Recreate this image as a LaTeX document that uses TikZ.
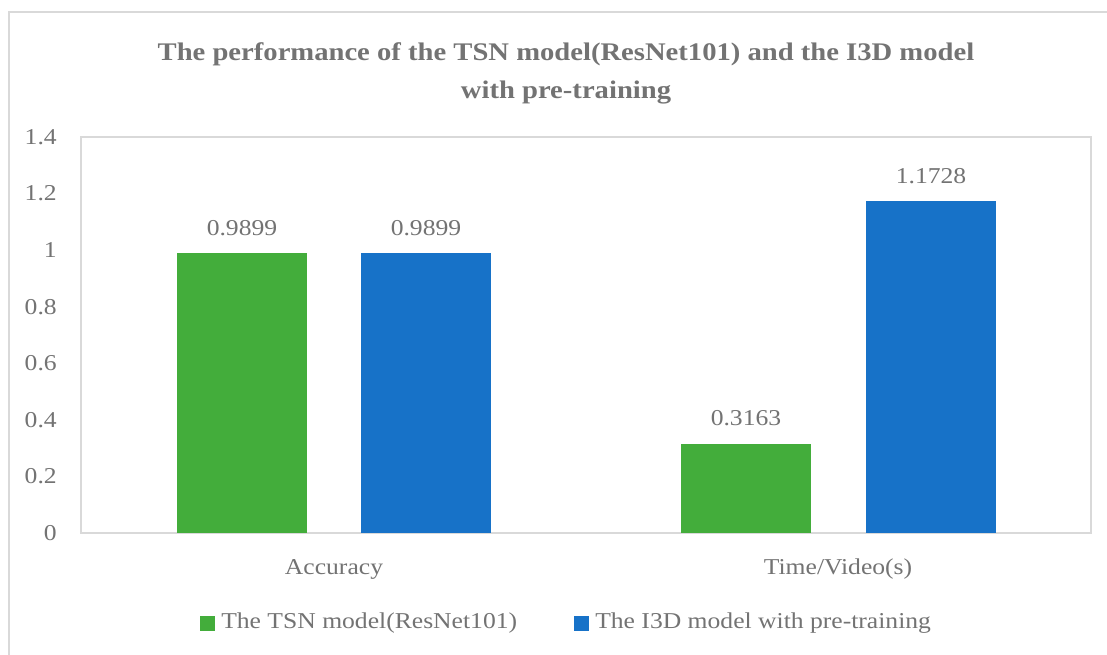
\documentclass[tikz,border=0pt]{standalone}
\usepackage{fontspec}
\setmainfont[FakeStretch=1.13]{Liberation Serif}
\definecolor{txt}{HTML}{737373}
\definecolor{frame}{HTML}{D9D9D9}
\definecolor{tsn}{HTML}{43AD3B}
\definecolor{itd}{HTML}{1772C8}
\tikzset{
  px/.style={x=0.75pt,y=-0.75pt},
  lblfont/.style={text=txt,font=\fontsize{17}{20}\selectfont,inner sep=0pt},
  ticklbl/.style={lblfont,anchor=east},
  vallbl/.style={lblfont},
  catlbl/.style={lblfont},
  leglbl/.style={lblfont,anchor=west},
}
\begin{document}
\begin{tikzpicture}[px]
\useasboundingbox (0,0) rectangle (1107,655);
\fill[white] (0,0) rectangle (1107,655);
\begin{scope}
  \clip (0,0) rectangle (1107,655);
  \draw[frame,line width=1.5pt] (9,12) rectangle (1130,680);
\end{scope}
% title
\node[text=txt,font=\bfseries\fontsize{19}{28.5}\selectfont,align=center] (title) at (566,73)
  {The performance of the TSN model(ResNet101) and the I3D model\\with pre-training};
% plot area
\draw[frame,line width=1.2pt] (81,137) rectangle (1091,533);
% y tick labels
\foreach \v/\t in {0/0,1/0.2,2/0.4,3/0.6,4/0.8,5/1,6/1.2,7/1.4}
  \node[ticklbl] (y\v) at (57,{533-\v*56.57}) {\t};
% bars: 282.86 px per unit
\fill[tsn] (177,533) rectangle (307,{533-0.9899*282.86});
\fill[itd] (361,533) rectangle (491,{533-0.9899*282.86});
\fill[tsn] (681,533) rectangle (811,{533-0.3163*282.86});
\fill[itd] (866,533) rectangle (996,{533-1.1728*282.86});
% value labels
\node[vallbl] (v1) at (242,{533-0.9899*282.86-25}) {0.9899};
\node[vallbl] (v2) at (426,{533-0.9899*282.86-25}) {0.9899};
\node[vallbl] (v3) at (746,{533-0.3163*282.86-25}) {0.3163};
\node[vallbl] (v4) at (931,{533-1.1728*282.86-25}) {1.1728};
% category labels
\node[catlbl] (c1) at (334,569) {Accuracy};
\node[catlbl] (c2) at (838,569) {Time/Video(s)};
% legend
\fill[tsn] (200,616) rectangle (215,631);
\node[leglbl] (l1) at (221,623) {The TSN model(ResNet101)};
\fill[itd] (574,616) rectangle (589,631);
\node[leglbl] (l2) at (595,623) {The I3D model with pre-training};
\end{tikzpicture}
\end{document}
